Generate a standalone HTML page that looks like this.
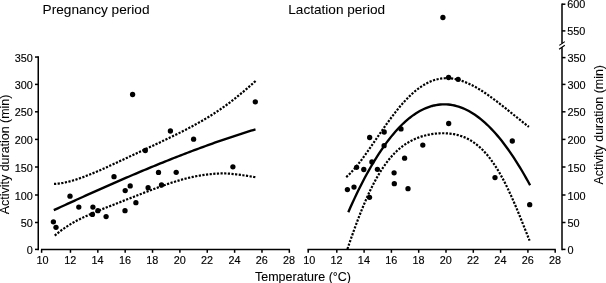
<!DOCTYPE html>
<html><head><meta charset="utf-8"><title>Activity duration</title>
<style>html,body{margin:0;padding:0;background:#fff}svg{display:block;will-change:transform;opacity:0.999}text{font-family:"Liberation Sans",sans-serif;fill:#000;stroke:#000;stroke-width:0.14px}</style></head><body>
<svg width="606" height="283" viewBox="0 0 606 283">
<rect width="606" height="283" fill="#fff"/>
<text x="42.6" y="14.45" font-size="13.65" style="stroke-width:0.06px">Pregnancy period</text>
<text x="288.3" y="13.75" font-size="13.6" style="stroke-width:0.06px">Lactation period</text>
<text x="255.0" y="280.7" font-size="12.5" style="stroke-width:0.1px">Temperature (°C)</text>
<text transform="translate(9.1,154.4) rotate(-90)" text-anchor="middle" font-size="12.45" style="stroke-width:0.06px">Activity duration (min)</text>
<text transform="translate(603.2,124.8) rotate(-90)" text-anchor="middle" font-size="12.45" style="stroke-width:0.06px">Activity duration (min)</text>
<path d="M38.25,56.3 V250.15" stroke="#000" stroke-width="1.5" fill="none"/>
<path d="M35,249.40 H38.25" stroke="#000" stroke-width="1.5" fill="none"/>
<text x="32.9" y="253.90" text-anchor="end" font-size="10.85">0</text>
<path d="M35,222.50 H38.25" stroke="#000" stroke-width="1.5" fill="none"/>
<text x="32.9" y="227.00" text-anchor="end" font-size="10.85">50</text>
<path d="M35,195.00 H38.25" stroke="#000" stroke-width="1.5" fill="none"/>
<text x="32.9" y="199.50" text-anchor="end" font-size="10.85">100</text>
<path d="M35,167.00 H38.25" stroke="#000" stroke-width="1.5" fill="none"/>
<text x="32.9" y="171.50" text-anchor="end" font-size="10.85">150</text>
<path d="M35,139.40 H38.25" stroke="#000" stroke-width="1.5" fill="none"/>
<text x="32.9" y="143.90" text-anchor="end" font-size="10.85">200</text>
<path d="M35,111.80 H38.25" stroke="#000" stroke-width="1.5" fill="none"/>
<text x="32.9" y="116.30" text-anchor="end" font-size="10.85">250</text>
<path d="M35,84.40 H38.25" stroke="#000" stroke-width="1.5" fill="none"/>
<text x="32.9" y="88.90" text-anchor="end" font-size="10.85">300</text>
<path d="M35,57.05 H38.25" stroke="#000" stroke-width="1.5" fill="none"/>
<text x="32.9" y="62.30" text-anchor="end" font-size="10.85">350</text>
<path d="M41.0,249.5 H289.94" stroke="#000" stroke-width="1.5" fill="none"/>
<path d="M41.60,249.5 V252.8" stroke="#000" stroke-width="1.5" fill="none"/>
<text x="42.60" y="263.6" text-anchor="middle" font-size="10.85">10</text>
<path d="M70.46,249.5 V252.8" stroke="#000" stroke-width="1.5" fill="none"/>
<text x="70.26" y="263.6" text-anchor="middle" font-size="10.85">12</text>
<path d="M97.82,249.5 V252.8" stroke="#000" stroke-width="1.5" fill="none"/>
<text x="97.62" y="263.6" text-anchor="middle" font-size="10.85">14</text>
<path d="M125.18,249.5 V252.8" stroke="#000" stroke-width="1.5" fill="none"/>
<text x="124.98" y="263.6" text-anchor="middle" font-size="10.85">16</text>
<path d="M152.54,249.5 V252.8" stroke="#000" stroke-width="1.5" fill="none"/>
<text x="152.34" y="263.6" text-anchor="middle" font-size="10.85">18</text>
<path d="M179.90,249.5 V252.8" stroke="#000" stroke-width="1.5" fill="none"/>
<text x="179.70" y="263.6" text-anchor="middle" font-size="10.85">20</text>
<path d="M207.26,249.5 V252.8" stroke="#000" stroke-width="1.5" fill="none"/>
<text x="207.06" y="263.6" text-anchor="middle" font-size="10.85">22</text>
<path d="M234.62,249.5 V252.8" stroke="#000" stroke-width="1.5" fill="none"/>
<text x="234.42" y="263.6" text-anchor="middle" font-size="10.85">24</text>
<path d="M261.98,249.5 V252.8" stroke="#000" stroke-width="1.5" fill="none"/>
<text x="261.78" y="263.6" text-anchor="middle" font-size="10.85">26</text>
<path d="M289.34,249.5 V252.8" stroke="#000" stroke-width="1.5" fill="none"/>
<text x="289.14" y="263.6" text-anchor="middle" font-size="10.85">28</text>
<path d="M307.5,249.5 H555.80" stroke="#000" stroke-width="1.5" fill="none"/>
<path d="M308.20,249.5 V252.8" stroke="#000" stroke-width="1.5" fill="none"/>
<text x="309.20" y="263.6" text-anchor="middle" font-size="10.85">10</text>
<path d="M336.80,249.5 V252.8" stroke="#000" stroke-width="1.5" fill="none"/>
<text x="336.60" y="263.6" text-anchor="middle" font-size="10.85">12</text>
<path d="M364.10,249.5 V252.8" stroke="#000" stroke-width="1.5" fill="none"/>
<text x="363.90" y="263.6" text-anchor="middle" font-size="10.85">14</text>
<path d="M391.40,249.5 V252.8" stroke="#000" stroke-width="1.5" fill="none"/>
<text x="391.20" y="263.6" text-anchor="middle" font-size="10.85">16</text>
<path d="M418.70,249.5 V252.8" stroke="#000" stroke-width="1.5" fill="none"/>
<text x="418.50" y="263.6" text-anchor="middle" font-size="10.85">18</text>
<path d="M446.00,249.5 V252.8" stroke="#000" stroke-width="1.5" fill="none"/>
<text x="445.80" y="263.6" text-anchor="middle" font-size="10.85">20</text>
<path d="M473.30,249.5 V252.8" stroke="#000" stroke-width="1.5" fill="none"/>
<text x="473.10" y="263.6" text-anchor="middle" font-size="10.85">22</text>
<path d="M500.60,249.5 V252.8" stroke="#000" stroke-width="1.5" fill="none"/>
<text x="500.40" y="263.6" text-anchor="middle" font-size="10.85">24</text>
<path d="M527.90,249.5 V252.8" stroke="#000" stroke-width="1.5" fill="none"/>
<text x="527.70" y="263.6" text-anchor="middle" font-size="10.85">26</text>
<path d="M555.20,249.5 V252.8" stroke="#000" stroke-width="1.5" fill="none"/>
<text x="555.00" y="263.6" text-anchor="middle" font-size="10.85">28</text>
<path d="M562.0,250.15 V47.2 M562.0,43.6 V3.45" stroke="#000" stroke-width="1.5" fill="none"/>
<path d="M559.3,45.4 L564.8,41.6 M559.1,49.3 L564.8,45.2" stroke="#000" stroke-width="1.15" fill="none"/>
<path d="M562.0,249.40 H565.5" stroke="#000" stroke-width="1.5" fill="none"/>
<text x="567.5" y="253.90" font-size="10.9">0</text>
<path d="M562.0,222.50 H565.5" stroke="#000" stroke-width="1.5" fill="none"/>
<text x="567.5" y="227.00" font-size="10.9">50</text>
<path d="M562.0,195.00 H565.5" stroke="#000" stroke-width="1.5" fill="none"/>
<text x="567.5" y="199.50" font-size="10.9">100</text>
<path d="M562.0,167.00 H565.5" stroke="#000" stroke-width="1.5" fill="none"/>
<text x="567.5" y="171.50" font-size="10.9">150</text>
<path d="M562.0,139.40 H565.5" stroke="#000" stroke-width="1.5" fill="none"/>
<text x="567.5" y="143.90" font-size="10.9">200</text>
<path d="M562.0,111.80 H565.5" stroke="#000" stroke-width="1.5" fill="none"/>
<text x="567.5" y="116.30" font-size="10.9">250</text>
<path d="M562.0,84.40 H565.5" stroke="#000" stroke-width="1.5" fill="none"/>
<text x="567.5" y="88.90" font-size="10.9">300</text>
<path d="M562.0,57.60 H565.5" stroke="#000" stroke-width="1.5" fill="none"/>
<text x="567.5" y="62.10" font-size="10.9">350</text>
<path d="M562.0,30.90 H565.4" stroke="#000" stroke-width="1.5" fill="none"/>
<text x="567.3" y="34.50" font-size="10.85">550</text>
<path d="M562.0,4.20 H565.4" stroke="#000" stroke-width="1.5" fill="none"/>
<text x="567.3" y="7.80" font-size="10.85">600</text>
<path d="M53.80,210.17 L56.07,209.13 L58.33,208.08 L60.60,207.04 L62.87,206.00 L65.13,204.97 L67.40,203.93 L69.66,202.89 L71.93,201.86 L74.20,200.83 L76.46,199.80 L78.73,198.77 L81.00,197.74 L83.26,196.72 L85.53,195.69 L87.79,194.67 L90.06,193.65 L92.33,192.64 L94.59,191.62 L96.86,190.61 L99.13,189.60 L101.39,188.59 L103.66,187.59 L105.92,186.59 L108.19,185.59 L110.46,184.59 L112.72,183.59 L114.99,182.60 L117.26,181.61 L119.52,180.63 L121.79,179.65 L124.06,178.67 L126.32,177.69 L128.59,176.71 L130.85,175.74 L133.12,174.78 L135.39,173.81 L137.65,172.85 L139.92,171.90 L142.19,170.94 L144.45,169.99 L146.72,169.05 L148.98,168.11 L151.25,167.17 L153.52,166.23 L155.78,165.30 L158.05,164.38 L160.32,163.46 L162.58,162.54 L164.85,161.63 L167.11,160.72 L169.38,159.81 L171.65,158.91 L173.91,158.01 L176.18,157.12 L178.45,156.24 L180.71,155.35 L182.98,154.48 L185.24,153.60 L187.51,152.74 L189.78,151.87 L192.04,151.02 L194.31,150.16 L196.58,149.32 L198.84,148.48 L201.11,147.64 L203.38,146.81 L205.64,145.98 L207.91,145.16 L210.17,144.35 L212.44,143.54 L214.71,142.73 L216.97,141.93 L219.24,141.14 L221.51,140.36 L223.77,139.58 L226.04,138.80 L228.30,138.03 L230.57,137.27 L232.84,136.52 L235.10,135.77 L237.37,135.02 L239.64,134.29 L241.90,133.56 L244.17,132.83 L246.43,132.12 L248.70,131.41 L250.97,130.70 L253.23,130.01 L255.50,129.32" stroke="#000" stroke-width="2.35" fill="none"/>
<path d="M54.00,183.96 L56.27,183.80 L58.55,183.56 L60.82,183.25 L63.09,182.87 L65.37,182.42 L67.64,181.90 L69.91,181.33 L72.18,180.71 L74.46,180.04 L76.73,179.33 L79.00,178.57 L81.28,177.78 L83.55,176.95 L85.82,176.09 L88.10,175.21 L90.37,174.30 L92.64,173.36 L94.91,172.41 L97.19,171.43 L99.46,170.44 L101.73,169.44 L104.01,168.43 L106.28,167.40 L108.55,166.37 L110.83,165.33 L113.10,164.28 L115.37,163.23 L117.64,162.17 L119.92,161.11 L122.19,160.05 L124.46,158.99 L126.74,157.92 L129.01,156.86 L131.28,155.79 L133.56,154.73 L135.83,153.67 L138.10,152.60 L140.38,151.54 L142.65,150.48 L144.92,149.41 L147.19,148.35 L149.47,147.29 L151.74,146.22 L154.01,145.16 L156.29,144.09 L158.56,143.02 L160.83,141.94 L163.11,140.86 L165.38,139.78 L167.65,138.69 L169.92,137.60 L172.20,136.49 L174.47,135.38 L176.74,134.26 L179.02,133.13 L181.29,131.98 L183.56,130.83 L185.84,129.66 L188.11,128.47 L190.38,127.27 L192.66,126.06 L194.93,124.82 L197.20,123.56 L199.47,122.29 L201.75,120.99 L204.02,119.66 L206.29,118.31 L208.57,116.94 L210.84,115.53 L213.11,114.10 L215.39,112.63 L217.66,111.13 L219.93,109.59 L222.20,108.02 L224.48,106.41 L226.75,104.76 L229.02,103.07 L231.30,101.35 L233.57,99.59 L235.84,97.80 L238.12,95.97 L240.39,94.12 L242.66,92.23 L244.93,90.32 L247.21,88.39 L249.48,86.43 L251.75,84.44 L254.03,82.43 L256.30,80.39" stroke="#000" stroke-width="2.2" fill="none" stroke-dasharray="2.2 1.45"/>
<path d="M54.75,235.62 L57.02,233.69 L59.28,231.87 L61.55,230.16 L63.81,228.53 L66.08,226.99 L68.34,225.53 L70.61,224.14 L72.88,222.81 L75.14,221.54 L77.41,220.32 L79.67,219.16 L81.94,218.03 L84.20,216.94 L86.47,215.89 L88.74,214.86 L91.00,213.86 L93.27,212.89 L95.53,211.93 L97.80,210.99 L100.06,210.06 L102.33,209.14 L104.60,208.23 L106.86,207.33 L109.13,206.44 L111.39,205.55 L113.66,204.66 L115.92,203.77 L118.19,202.88 L120.46,202.00 L122.72,201.11 L124.99,200.22 L127.25,199.33 L129.52,198.45 L131.78,197.56 L134.05,196.67 L136.32,195.78 L138.58,194.89 L140.85,194.01 L143.11,193.12 L145.38,192.24 L147.64,191.37 L149.91,190.50 L152.18,189.64 L154.44,188.78 L156.71,187.94 L158.97,187.10 L161.24,186.28 L163.51,185.47 L165.77,184.68 L168.04,183.90 L170.30,183.15 L172.57,182.41 L174.83,181.69 L177.10,181.00 L179.37,180.33 L181.63,179.68 L183.90,179.07 L186.16,178.48 L188.43,177.92 L190.69,177.39 L192.96,176.90 L195.23,176.43 L197.49,176.00 L199.76,175.60 L202.02,175.23 L204.29,174.90 L206.55,174.59 L208.82,174.31 L211.09,174.06 L213.35,173.84 L215.62,173.66 L217.88,173.53 L220.15,173.44 L222.41,173.41 L224.68,173.43 L226.95,173.52 L229.21,173.65 L231.48,173.84 L233.74,174.06 L236.01,174.32 L238.27,174.60 L240.54,174.91 L242.81,175.22 L245.07,175.56 L247.34,175.90 L249.60,176.26 L251.87,176.62 L254.13,177.00 L256.40,177.37" stroke="#000" stroke-width="2.2" fill="none" stroke-dasharray="2.2 1.45"/>
<path d="M348.30,212.21 L350.34,207.58 L352.39,203.05 L354.43,198.63 L356.47,194.31 L358.51,190.09 L360.56,185.98 L362.60,181.98 L364.64,178.07 L366.68,174.27 L368.73,170.57 L370.77,166.98 L372.81,163.49 L374.86,160.09 L376.90,156.81 L378.94,153.62 L380.98,150.54 L383.03,147.55 L385.07,144.67 L387.11,141.89 L389.15,139.21 L391.20,136.63 L393.24,134.16 L395.28,131.78 L397.32,129.51 L399.37,127.33 L401.41,125.26 L403.45,123.28 L405.50,121.41 L407.54,119.63 L409.58,117.96 L411.62,116.38 L413.67,114.90 L415.71,113.53 L417.75,112.24 L419.79,111.06 L421.84,109.98 L423.88,108.99 L425.92,108.09 L427.97,107.30 L430.01,106.60 L432.05,105.99 L434.09,105.48 L436.14,105.07 L438.18,104.74 L440.22,104.52 L442.26,104.38 L444.31,104.34 L446.35,104.39 L448.39,104.53 L450.43,104.77 L452.48,105.10 L454.52,105.52 L456.56,106.03 L458.61,106.64 L460.65,107.33 L462.69,108.12 L464.73,109.00 L466.78,109.98 L468.82,111.04 L470.86,112.20 L472.90,113.45 L474.95,114.79 L476.99,116.23 L479.03,117.76 L481.08,119.38 L483.12,121.09 L485.16,122.89 L487.20,124.78 L489.25,126.77 L491.29,128.85 L493.33,131.01 L495.37,133.27 L497.42,135.62 L499.46,138.06 L501.50,140.59 L503.54,143.21 L505.59,145.92 L507.63,148.71 L509.67,151.60 L511.72,154.58 L513.76,157.64 L515.80,160.79 L517.84,164.03 L519.89,167.36 L521.93,170.77 L523.97,174.27 L526.01,177.86 L528.06,181.53 L530.10,185.29" stroke="#000" stroke-width="2.35" fill="none"/>
<path d="M346.20,177.07 L348.25,175.32 L350.31,173.32 L352.36,171.12 L354.41,168.77 L356.46,166.30 L358.52,163.75 L360.57,161.11 L362.62,158.39 L364.68,155.59 L366.73,152.74 L368.78,149.83 L370.83,146.88 L372.89,143.91 L374.94,140.91 L376.99,137.91 L379.04,134.91 L381.10,131.93 L383.15,128.97 L385.20,126.04 L387.26,123.15 L389.31,120.31 L391.36,117.52 L393.41,114.80 L395.47,112.14 L397.52,109.56 L399.57,107.06 L401.63,104.64 L403.68,102.31 L405.73,100.08 L407.78,97.94 L409.84,95.90 L411.89,93.97 L413.94,92.14 L416.00,90.43 L418.05,88.82 L420.10,87.32 L422.15,85.94 L424.21,84.67 L426.26,83.51 L428.31,82.47 L430.37,81.55 L432.42,80.74 L434.47,80.04 L436.52,79.46 L438.58,78.99 L440.63,78.62 L442.68,78.37 L444.73,78.23 L446.79,78.19 L448.84,78.25 L450.89,78.41 L452.95,78.67 L455.00,79.03 L457.05,79.48 L459.10,80.01 L461.16,80.63 L463.21,81.34 L465.26,82.12 L467.32,82.98 L469.37,83.90 L471.42,84.90 L473.47,85.96 L475.53,87.08 L477.58,88.26 L479.63,89.49 L481.69,90.77 L483.74,92.10 L485.79,93.47 L487.84,94.88 L489.90,96.33 L491.95,97.81 L494.00,99.32 L496.06,100.86 L498.11,102.43 L500.16,104.02 L502.21,105.63 L504.27,107.25 L506.32,108.89 L508.37,110.53 L510.42,112.19 L512.48,113.85 L514.53,115.50 L516.58,117.16 L518.64,118.81 L520.69,120.45 L522.74,122.09 L524.79,123.70 L526.85,125.30 L528.90,126.88" stroke="#000" stroke-width="2.2" fill="none" stroke-dasharray="2.2 1.45"/>
<path d="M347.40,249.07 L349.45,243.11 L351.49,237.23 L353.54,231.47 L355.59,225.84 L357.64,220.35 L359.68,215.02 L361.73,209.86 L363.78,204.88 L365.82,200.08 L367.87,195.48 L369.92,191.08 L371.97,186.87 L374.01,182.87 L376.06,179.06 L378.11,175.46 L380.16,172.05 L382.20,168.83 L384.25,165.80 L386.30,162.96 L388.34,160.29 L390.39,157.80 L392.44,155.48 L394.49,153.32 L396.53,151.31 L398.58,149.44 L400.63,147.72 L402.67,146.13 L404.72,144.66 L406.77,143.32 L408.82,142.08 L410.86,140.95 L412.91,139.92 L414.96,138.98 L417.00,138.12 L419.05,137.35 L421.10,136.65 L423.15,136.03 L425.19,135.48 L427.24,134.99 L429.29,134.56 L431.33,134.20 L433.38,133.89 L435.43,133.64 L437.48,133.45 L439.52,133.32 L441.57,133.24 L443.62,133.23 L445.67,133.28 L447.71,133.39 L449.76,133.57 L451.81,133.83 L453.85,134.16 L455.90,134.57 L457.95,135.07 L460.00,135.66 L462.04,136.34 L464.09,137.13 L466.14,138.03 L468.18,139.04 L470.23,140.17 L472.28,141.42 L474.33,142.81 L476.37,144.33 L478.42,146.00 L480.47,147.82 L482.51,149.79 L484.56,151.92 L486.61,154.22 L488.66,156.69 L490.70,159.34 L492.75,162.17 L494.80,165.19 L496.84,168.39 L498.89,171.77 L500.94,175.35 L502.99,179.11 L505.03,183.05 L507.08,187.17 L509.13,191.46 L511.18,195.91 L513.22,200.51 L515.27,205.25 L517.32,210.11 L519.36,215.08 L521.41,220.13 L523.46,225.25 L525.51,230.40 L527.55,235.56 L529.60,240.69" stroke="#000" stroke-width="2.2" fill="none" stroke-dasharray="2.2 1.45"/>
<circle cx="53.4" cy="221.8" r="2.65" fill="#000"/>
<circle cx="56.0" cy="227.3" r="2.65" fill="#000"/>
<circle cx="70.0" cy="196.2" r="2.65" fill="#000"/>
<circle cx="78.8" cy="207.1" r="2.65" fill="#000"/>
<circle cx="92.9" cy="207.1" r="2.65" fill="#000"/>
<circle cx="92.4" cy="214.4" r="2.65" fill="#000"/>
<circle cx="97.9" cy="210.7" r="2.65" fill="#000"/>
<circle cx="106.1" cy="216.6" r="2.65" fill="#000"/>
<circle cx="114.0" cy="176.7" r="2.65" fill="#000"/>
<circle cx="125.2" cy="190.6" r="2.65" fill="#000"/>
<circle cx="125.0" cy="210.7" r="2.65" fill="#000"/>
<circle cx="130.2" cy="185.9" r="2.65" fill="#000"/>
<circle cx="135.9" cy="202.7" r="2.65" fill="#000"/>
<circle cx="148.1" cy="187.7" r="2.65" fill="#000"/>
<circle cx="158.5" cy="172.4" r="2.65" fill="#000"/>
<circle cx="161.5" cy="185.0" r="2.65" fill="#000"/>
<circle cx="176.2" cy="172.3" r="2.65" fill="#000"/>
<circle cx="145.3" cy="150.5" r="2.65" fill="#000"/>
<circle cx="170.4" cy="131.0" r="2.65" fill="#000"/>
<circle cx="193.6" cy="139.2" r="2.65" fill="#000"/>
<circle cx="255.3" cy="101.8" r="2.65" fill="#000"/>
<circle cx="232.9" cy="166.8" r="2.65" fill="#000"/>
<circle cx="132.6" cy="94.5" r="2.65" fill="#000"/>
<circle cx="347.4" cy="189.6" r="2.65" fill="#000"/>
<circle cx="354.0" cy="187.1" r="2.65" fill="#000"/>
<circle cx="356.6" cy="167.3" r="2.65" fill="#000"/>
<circle cx="363.8" cy="169.5" r="2.65" fill="#000"/>
<circle cx="371.9" cy="161.9" r="2.65" fill="#000"/>
<circle cx="377.4" cy="169.3" r="2.65" fill="#000"/>
<circle cx="369.5" cy="197.3" r="2.65" fill="#000"/>
<circle cx="394.1" cy="172.8" r="2.65" fill="#000"/>
<circle cx="394.3" cy="183.7" r="2.65" fill="#000"/>
<circle cx="404.6" cy="158.2" r="2.65" fill="#000"/>
<circle cx="408.0" cy="188.7" r="2.65" fill="#000"/>
<circle cx="369.65" cy="137.5" r="2.65" fill="#000"/>
<circle cx="384.2" cy="132.0" r="2.65" fill="#000"/>
<circle cx="384.1" cy="145.7" r="2.65" fill="#000"/>
<circle cx="401.0" cy="128.9" r="2.65" fill="#000"/>
<circle cx="422.8" cy="145.1" r="2.65" fill="#000"/>
<circle cx="448.7" cy="123.5" r="2.65" fill="#000"/>
<circle cx="448.6" cy="77.5" r="2.65" fill="#000"/>
<circle cx="458.1" cy="79.3" r="2.65" fill="#000"/>
<circle cx="512.3" cy="141.0" r="2.65" fill="#000"/>
<circle cx="495.0" cy="177.6" r="2.65" fill="#000"/>
<circle cx="529.7" cy="204.7" r="2.65" fill="#000"/>
<circle cx="442.9" cy="17.5" r="2.65" fill="#000"/>
</svg></body></html>
